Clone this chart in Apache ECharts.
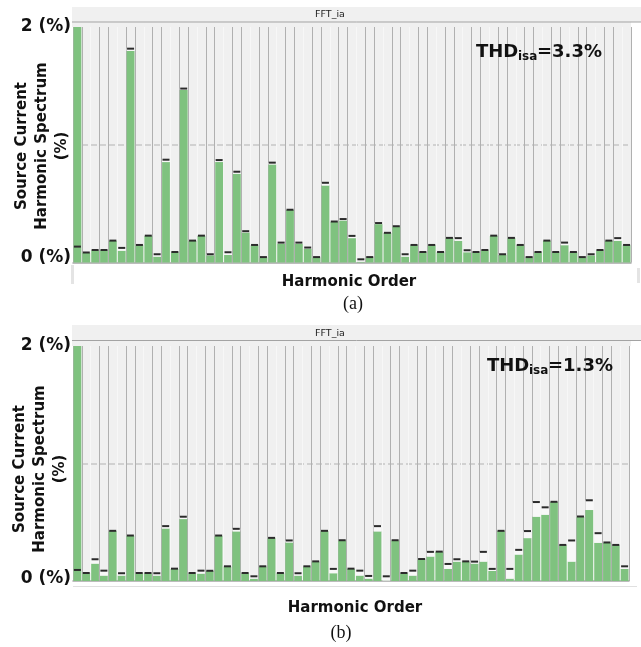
<!DOCTYPE html>
<html>
<head>
<meta charset="utf-8">
<script src="https://cdn.jsdelivr.net/npm/echarts@6/dist/echarts.min.js"></script>
<style>
html,body{margin:0;padding:0;background:#fff;}
#c{width:641px;height:647px;}
</style>
</head>
<body>
<div id="c"></div>
<script>
// Harmonic orders (categories)
const harmonics = ['1','2','3','4','5','6','7','8','9','10','11','12','13','14','15','16','17','18','19','20','21','22','23','24','25','26','27','28','29','30','31','32','33','34','35','36','37','38','39','40','41','42','43','44','45','46','47','48','49','50','51','52','53','54','55','56','57','58','59','60','61','62','63'];

// (a) spectrum: bar values (%) and marker values (%)
const barsA = [2, 0.083, 0.104, 0.104, 0.184, 0.10, 1.797, 0.147, 0.226, 0.05,
  0.853, 0.087, 1.466, 0.184, 0.226, 0.061, 0.853, 0.064, 0.754, 0.255,
  0.147, 0.044, 0.833, 0.161, 0.446, 0.161, 0.118, 0.044, 0.654, 0.346,
  0.357, 0.207, 0.007, 0.044, 0.326, 0.25, 0.306, 0.05, 0.147, 0.087,
  0.147, 0.087, 0.207, 0.184, 0.087, 0.087, 0.104, 0.226, 0.064, 0.207,
  0.147, 0.044, 0.087, 0.184, 0.087, 0.147, 0.087, 0.044, 0.061, 0.104,
  0.184, 0.184, 0.147];
const marksA = [0.135, 0.085, 0.106, 0.106, 0.186, 0.124, 1.816, 0.149, 0.228, 0.07,
  0.873, 0.089, 1.477, 0.186, 0.228, 0.07, 0.87, 0.087, 0.771, 0.266,
  0.149, 0.046, 0.848, 0.169, 0.448, 0.169, 0.127, 0.046, 0.677, 0.348,
  0.369, 0.226, 0.027, 0.046, 0.335, 0.252, 0.308, 0.07, 0.149, 0.089,
  0.149, 0.089, 0.209, 0.207, 0.104, 0.089, 0.106, 0.228, 0.07, 0.209,
  0.149, 0.046, 0.089, 0.186, 0.089, 0.169, 0.089, 0.046, 0.07, 0.106,
  0.186, 0.207, 0.149];

// (b) spectrum
const barsB = [2, 0.066, 0.148, 0.046, 0.425, 0.046, 0.385, 0.066, 0.066, 0.046,
  0.447, 0.103, 0.527, 0.066, 0.063, 0.085, 0.385, 0.123, 0.422, 0.066,
  0.020, 0.123, 0.365, 0.066, 0.328, 0.046, 0.123, 0.165, 0.425, 0.066,
  0.345, 0.103, 0.046, 0.020, 0.422, 0.003, 0.345, 0.066, 0.046, 0.185,
  0.208, 0.248, 0.103, 0.165, 0.165, 0.148, 0.165, 0.085, 0.425, 0.020,
  0.225, 0.365, 0.547, 0.564, 0.672, 0.305, 0.165, 0.547, 0.604, 0.325,
  0.325, 0.305, 0.103];
const marksB = [0.094, 0.068, 0.185, 0.088, 0.427, 0.066, 0.387, 0.068, 0.068, 0.066,
  0.467, 0.105, 0.547, 0.068, 0.088, 0.087, 0.387, 0.125, 0.444, 0.068,
  0.040, 0.125, 0.367, 0.068, 0.345, 0.066, 0.125, 0.167, 0.427, 0.103,
  0.347, 0.105, 0.088, 0.043, 0.467, 0.040, 0.347, 0.068, 0.088, 0.187,
  0.248, 0.250, 0.145, 0.185, 0.167, 0.165, 0.248, 0.103, 0.427, 0.103,
  0.265, 0.425, 0.672, 0.627, 0.674, 0.307, 0.345, 0.549, 0.687, 0.407,
  0.328, 0.307, 0.125];

const yTickLabels = {0: '0 (%)', 2: '2 (%)'};
const panelTitle = 'FFT_ia';
const yTitle = 'Source Current\nHarmonic Spectrum\n(%)';
const xTitle = 'Harmonic Order';
const thdA = '=3.3%';
const thdB = '=1.3%';

const gapA = marksA.map((m, i) => Math.max(0, m - barsA[i]));
const gapB = marksB.map((m, i) => Math.max(0, m - barsB[i]));

const FONT = '"DejaVu Sans", Verdana, sans-serif';
const GREEN = '#7fc27f';

function xAxisCfg(idx) {
  return {
    type: 'category', gridIndex: idx, data: harmonics,
    axisLabel: {show: false, interval: 0}, axisTick: {show: false, interval: 0},
    axisLine: {show: true, lineStyle: {color: '#a6a6a6', width: 1.5}},
    splitLine: {show: true, interval: 0, lineStyle: {color: ['#b0b0b0', '#b0b0b0', '#f7f7f7'], width: 1}}
  };
}
function yAxisCfg(idx, shift) {
  return {
    type: 'value', gridIndex: idx, min: 0, max: 2, interval: 1,
    axisLine: {show: false}, axisTick: {show: false},
    axisLabel: {
      margin: 2,
      formatter: v => v === 2 ? '{t|' + yTickLabels[2] + '}' : (v === 0 ? '{z|' + yTickLabels[0] + '}' : ''),
      rich: {
        t: {fontFamily: FONT, fontWeight: 'bold', fontSize: 17, color: '#111'},
        z: {fontFamily: FONT, fontWeight: 'bold', fontSize: 17, color: '#111', padding: [0, 0, shift, 0]}
      }
    },
    splitLine: {show: true, lineStyle: {type: [6, 3], color: ['rgba(0,0,0,0)', '#c6c6c6', 'rgba(0,0,0,0)'], width: 1.5}}
  };
}
function seriesFor(idx, bars, gaps, marks) {
  return [
    {type: 'bar', xAxisIndex: idx, yAxisIndex: idx, stack: 's' + idx, data: bars,
     barCategoryGap: '12%', itemStyle: {color: GREEN}, z: 2},
    {type: 'bar', xAxisIndex: idx, yAxisIndex: idx, stack: 's' + idx, data: gaps,
     barCategoryGap: '12%', itemStyle: {color: '#f8f8f8'}, z: 2},
    {type: 'scatter', xAxisIndex: idx, yAxisIndex: idx, data: marks,
     symbol: 'rect', symbolSize: [7, 2], itemStyle: {color: '#2b2b2b', opacity: 1}, z: 5}
  ];
}

function headerGraphics(y0, yLine, yPlot) {
  return [
    {type: 'rect', shape: {x: 72, y: y0, width: 569, height: yLine - y0}, style: {fill: '#f0f0f0'}, z: -1},
    {type: 'rect', shape: {x: 72, y: yLine, width: 559, height: yPlot - yLine}, style: {fill: '#f0f0f0'}, z: -1},
    {type: 'line', shape: {x1: 72, y1: yLine, x2: 641, y2: yLine}, style: {stroke: '#a3a3a3', lineWidth: 1}},
    {type: 'text', x: 330, y: (y0 + yLine) / 2 + 0.5, z: 100,
     style: {text: panelTitle, font: '9.5px ' + FONT, fill: '#222', textAlign: 'center', textVerticalAlign: 'middle', align: 'center', verticalAlign: 'middle'}}
  ];
}
function textG(x, y, text, font, rot, align) {
  const a = align || 'center';
  return {type: 'text', x: x, y: y, rotation: rot || 0, z: 100,
    style: {text: text, font: font, fill: '#111', textAlign: a, textVerticalAlign: 'middle', align: a, verticalAlign: 'middle', lineHeight: 20}};
}
function thdG(x, y, val) {
  const big = 'bold 18px ' + FONT, small = 'bold 12px ' + FONT;
  return [
    textG(x, y, 'THD', big, 0, 'left'),
    textG(x + 42, y + 5, 'isa', small, 0, 'left'),
    textG(x + 61, y, val, big, 0, 'left')
  ];
}

const chart = echarts.init(document.getElementById('c'), null, {renderer: 'canvas'});
chart.setOption({
  animation: false,
  backgroundColor: '#ffffff',
  grid: [
    {left: 73, top: 27, width: 558, height: 235.5, show: true, backgroundColor: '#f0f0f0', borderWidth: 0},
    {left: 73, top: 346, width: 556, height: 235, show: true, backgroundColor: '#f0f0f0', borderWidth: 0}
  ],
  xAxis: [xAxisCfg(0), xAxisCfg(1)],
  yAxis: [yAxisCfg(0, 10), yAxisCfg(1, 5)],
  series: [].concat(seriesFor(0, barsA, gapA, marksA), seriesFor(1, barsB, gapB, marksB)),
  graphic: [].concat(
    headerGraphics(7, 22, 27),
    headerGraphics(325, 340.5, 346),
    [
      {type: 'rect', shape: {x: 71, y: 265, width: 3, height: 19}, style: {fill: '#e4e4e4'}},
      {type: 'rect', shape: {x: 637, y: 268, width: 3, height: 15}, style: {fill: '#e4e4e4'}},
      {type: 'line', shape: {x1: 73, y1: 586.5, x2: 637, y2: 586.5}, style: {stroke: '#e0e0e0', lineWidth: 1}},
      textG(42, 146, yTitle, 'bold 15px ' + FONT, Math.PI / 2),
      textG(40, 469, yTitle, 'bold 15px ' + FONT, Math.PI / 2),
      textG(349, 282, xTitle, 'bold 15px ' + FONT),
      textG(355, 608, xTitle, 'bold 15px ' + FONT),
      textG(353, 304, '(a)', '18px "Liberation Serif", "Times New Roman", serif'),
      textG(341, 633, '(b)', '18px "Liberation Serif", "Times New Roman", serif')
    ],
    thdG(476, 52, thdA),
    thdG(487, 366, thdB)
  )
});
</script>
</body>
</html>
